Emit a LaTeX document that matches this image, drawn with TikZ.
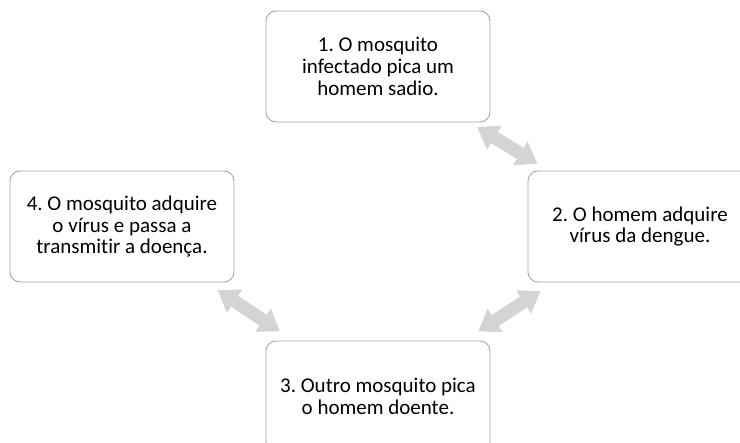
\documentclass[tikz,border=0pt]{standalone}
\usepackage{fontspec}
\setmainfont{Carlito}[Ligatures=NoCommon]
\usetikzlibrary{arrows.meta}
\definecolor{boxline}{RGB}{165,165,165}
\definecolor{arrowgray}{RGB}{212,212,212}
\frenchspacing

\begin{document}
\begin{tikzpicture}[x=1pt, y=-1pt, every node/.style = {shape=rectangle, rounded corners=10pt, draw=boxline, line width=0.9pt, fill=white, align=center, minimum width=224pt, minimum height=111pt, inner sep=0pt, font=\fontsize{21}{21.7}\selectfont},
  cyclearrow/.style = {draw=arrowgray, line width=13pt, {Triangle[width=28pt,length=20pt,line width=0pt,fill=arrowgray]}-{Triangle[width=28pt,length=20pt,line width=0pt,fill=arrowgray]}}]
  \useasboundingbox (0,0) rectangle (740,443);
  \clip (0,0) rectangle (740,443);
  \node (pica) at (378,66.5) {1. O mosquito\\infectado pica um\\homem sadio.};
  \node (homem) at (640,226.5) {2. O homem adquire\\vírus da dengue.};
  \node (outro) at (378,396.5) {3. Outro mosquito pica\\o homem doente.};
  \node (transmite) at (122,226.5) {4. O mosquito adquire\\o vírus e passa a\\transmitir a doença.};
  \draw[cyclearrow, shorten <=9pt, shorten >=13pt] (pica) -- (homem);
  \draw[cyclearrow, shorten <=16pt, shorten >=17pt] (homem) -- (outro);
  \draw[cyclearrow, shorten <=14pt, shorten >=17pt] (transmite) -- (outro);
\end{tikzpicture}
\end{document}
